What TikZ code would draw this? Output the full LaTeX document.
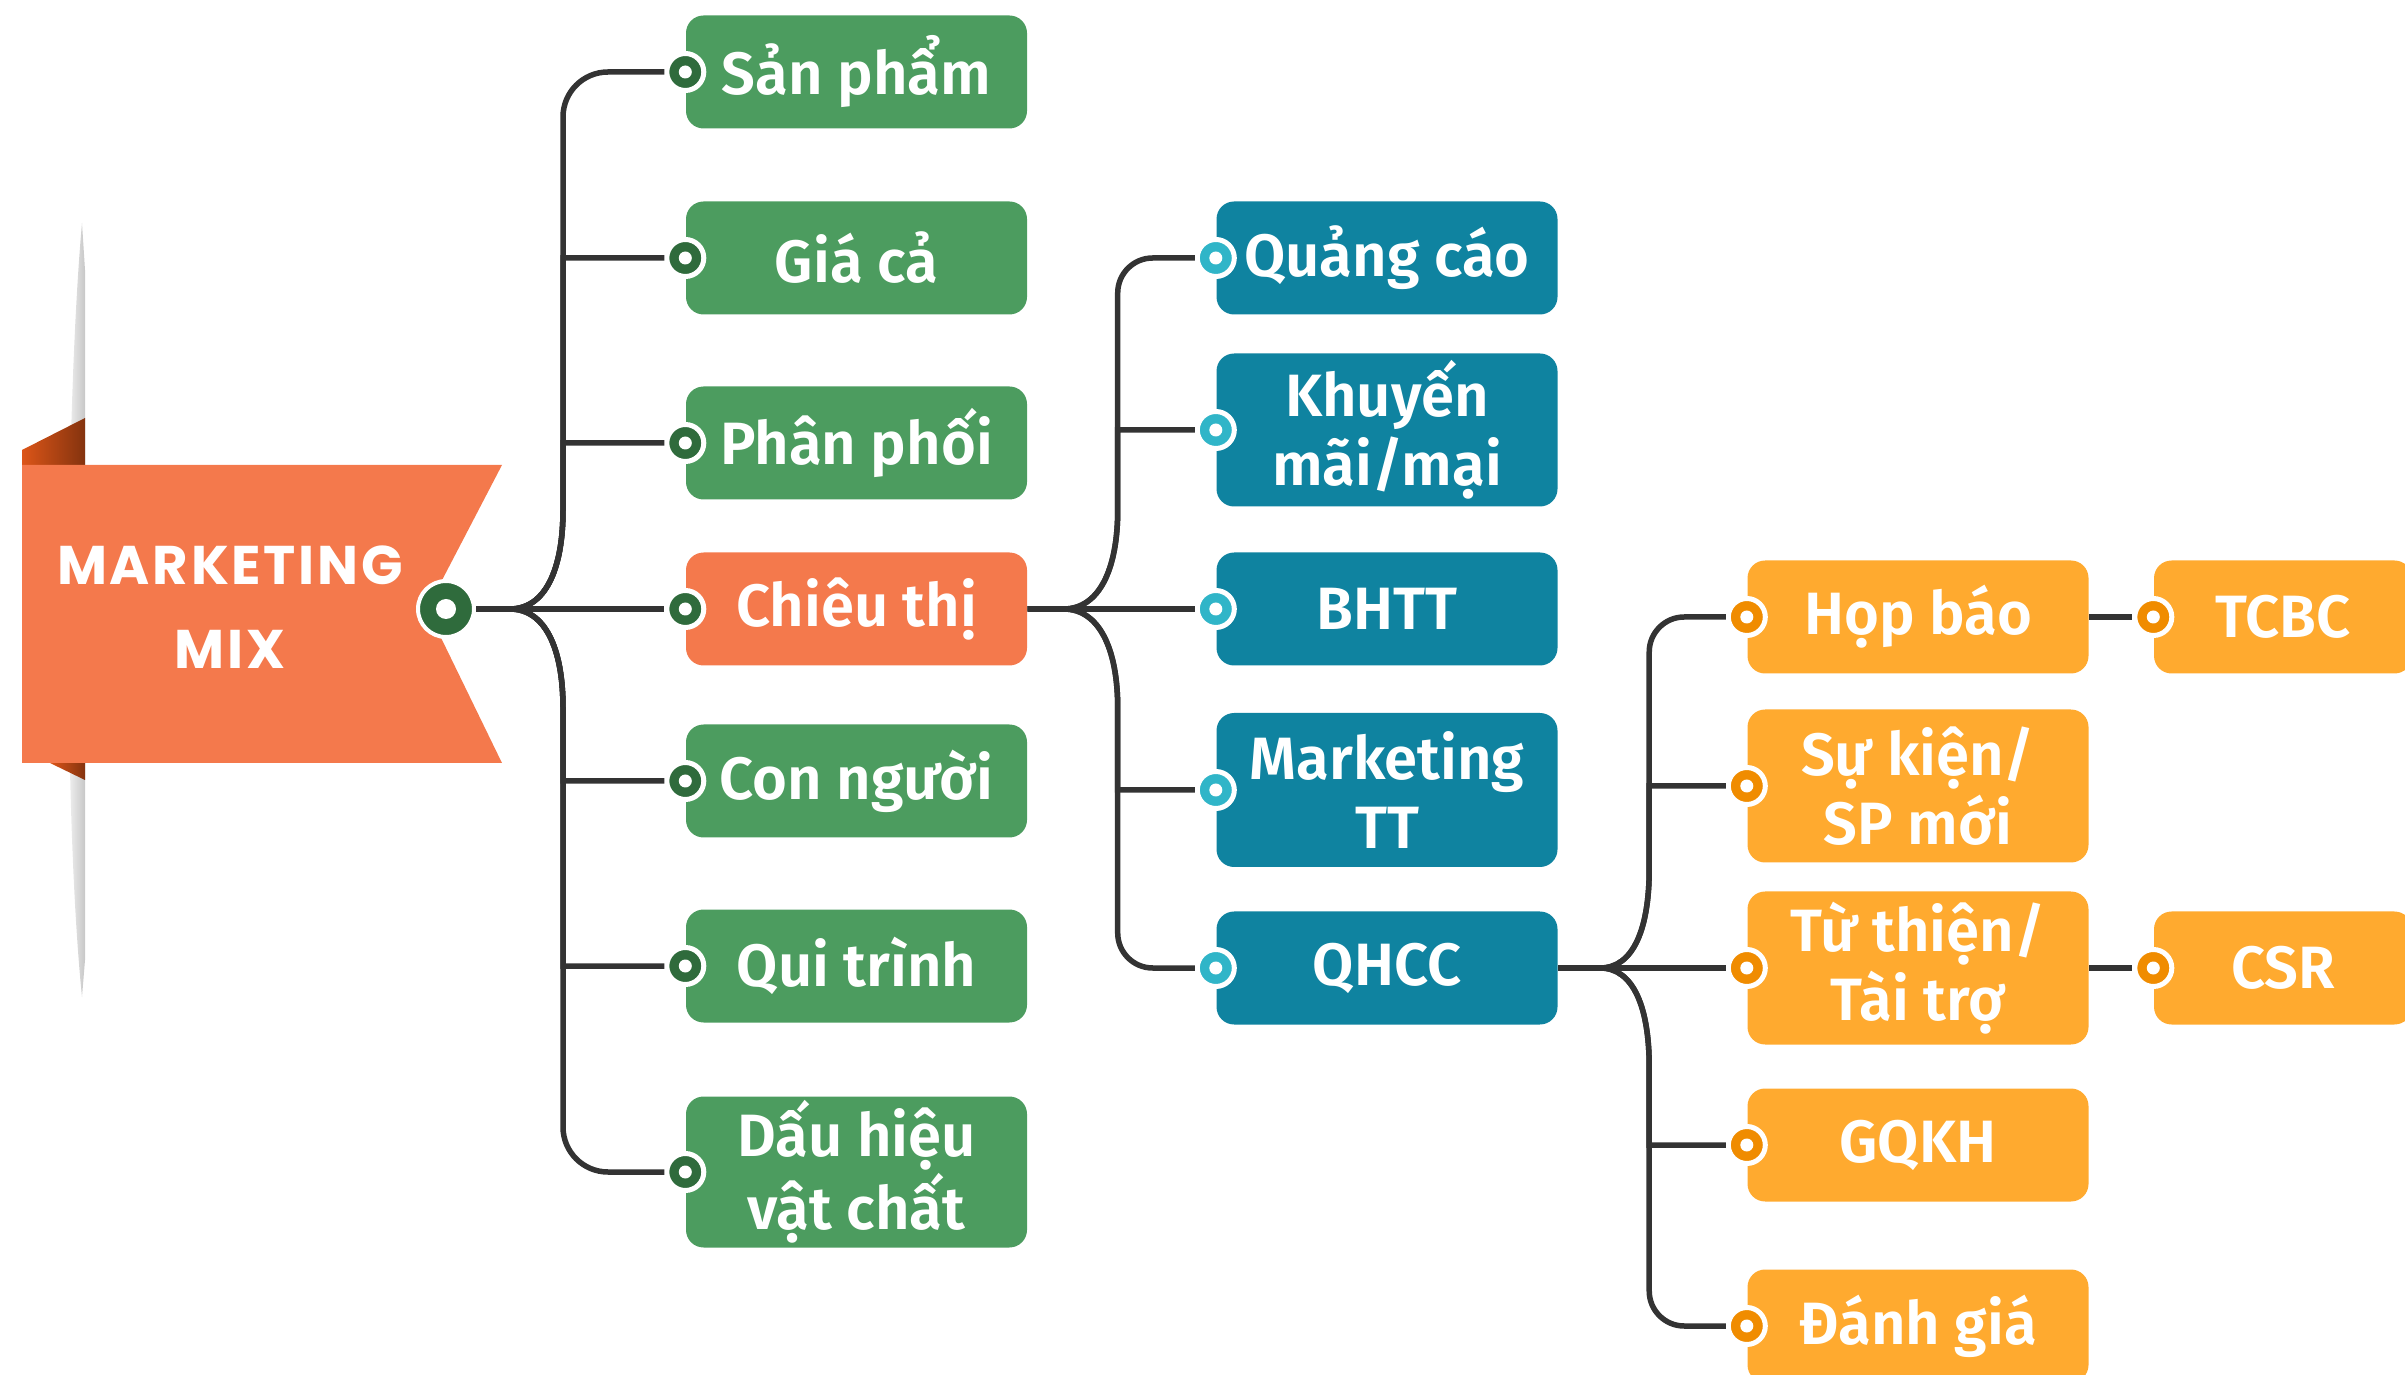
\documentclass[tikz,border=0pt]{standalone}
\usepackage{fontspec}
\setmainfont{Fira Sans}[BoldFont={Fira Sans SemiBold}]
\newfontfamily\hubfont{Poppins}[LetterSpace=5]
\definecolor{mixgreen}{HTML}{4C9C5F}
\definecolor{mixgreendot}{HTML}{2F6B3C}
\definecolor{promoblue}{HTML}{0F83A0}
\definecolor{promobluedot}{HTML}{30B5C8}
\definecolor{prorange}{HTML}{FFAA2F}
\definecolor{prorangedot}{HTML}{F08C00}
\definecolor{hubred}{HTML}{F4794C}
\definecolor{folddark}{HTML}{DC5518}
\definecolor{linkgray}{HTML}{333333}
\tikzset{
  box/.style={fill=#1, rounded corners=5pt, text=white, minimum width=3.41cm,
    minimum height=1.13cm, inner sep=0pt, align=center,
    font=\fontsize{17}{19.6}\selectfont\bfseries},
  knob/.style={circle, fill=#1, draw=white, line width=0.05cm, minimum size=0.37cm,
    inner sep=0pt, path picture={\fill[white] (path picture bounding box.center) circle (0.065cm);}},
  hubknob/.style={circle, fill=#1, draw=white, line width=0.04cm, minimum size=0.56cm,
    inner sep=0pt, path picture={\fill[white] (path picture bounding box.center) circle (0.10cm);}},
  link/.style={draw=linkgray, line width=0.055cm}
}
\begin{document}
\begin{tikzpicture}
\useasboundingbox (0,0) rectangle (24.05,-13.75);

\shade[left color=white, right color=black!22] (0.82,-2.23) .. controls (0.66,-4) and (0.62,-8) .. (0.82,-9.97) -- (0.85,-9.6) -- (0.85,-2.7) -- cycle;
\shade[left color=folddark, middle color=folddark, right color=folddark!60!black] (0.22,-4.50) -- (0.85,-4.18) -- (0.85,-4.65) -- (0.22,-4.65) -- cycle;
\shade[left color=folddark, right color=folddark!60!black] (0.50,-7.63) -- (0.85,-7.80) -- (0.85,-7.63) -- cycle;
\fill[hubred] (0.22,-4.65) -- (5.02,-4.65) -- (4.27,-6.09) -- (5.02,-7.63) -- (0.22,-7.63) -- cycle;
\node[font=\hubfont\bfseries\fontsize{15.5}{24}\selectfont, text=white, align=center] (hub) at (2.30,-6.07) {MARKETING\\MIX};
\node[hubknob=mixgreendot] (hubdot) at (4.46,-6.09) {};

\node[box=mixgreen] (sanpham) at (8.565,-0.72) {Sản phẩm};
\node[box=mixgreen] (giaca) at (8.565,-2.58) {Giá cả};
\node[box=mixgreen] (phanphoi) at (8.565,-4.43) {Phân phối};
\node[box=hubred] (chieuthi) at (8.565,-6.09) {Chiêu thị};
\node[box=mixgreen] (connguoi) at (8.565,-7.81) {Con người};
\node[box=mixgreen] (quitrinh) at (8.565,-9.66) {Qui trình};
\node[box=mixgreen, minimum height=1.51cm] (dauhieu) at (8.565,-11.72) {Dấu hiệu\\vật chất};

\node[box=promoblue] (quangcao) at (13.87,-2.58) {Quảng cáo};
\node[box=promoblue, minimum height=1.53cm] (khuyenmai) at (13.87,-4.30) {Khuyến\\mãi/mại};
\node[box=promoblue] (bhtt) at (13.87,-6.09) {BHTT};
\node[box=promoblue, minimum height=1.54cm] (mktt) at (13.87,-7.90) {Marketing\\TT};
\node[box=promoblue] (qhcc) at (13.87,-9.68) {QHCC};

\node[box=prorange] (hopbao) at (19.18,-6.17) {Họp báo};
\node[box=prorange, minimum height=1.53cm] (sukien) at (19.18,-7.86) {Sự kiện/\\SP mới};
\node[box=prorange, minimum height=1.53cm] (tuthien) at (19.18,-9.68) {Từ thiện/\\Tài trợ};
\node[box=prorange] (gqkh) at (19.18,-11.45) {GQKH};
\node[box=prorange] (danhgia) at (19.18,-13.26) {Đánh giá};
\node[box=prorange, minimum width=2.58cm] (tcbc) at (22.83,-6.17) {TCBC};
\node[box=prorange, minimum width=2.58cm] (csr) at (22.83,-9.68) {CSR};

\node[knob=mixgreendot] (sanpham-dot) at (sanpham.west) {};
\node[knob=mixgreendot] (giaca-dot) at (giaca.west) {};
\node[knob=mixgreendot] (phanphoi-dot) at (phanphoi.west) {};
\node[knob=mixgreendot] (chieuthi-dot) at (chieuthi.west) {};
\node[knob=mixgreendot] (connguoi-dot) at (connguoi.west) {};
\node[knob=mixgreendot] (quitrinh-dot) at (quitrinh.west) {};
\node[knob=mixgreendot] (dauhieu-dot) at (dauhieu.west) {};
\node[knob=promobluedot] (quangcao-dot) at (quangcao.west) {};
\node[knob=promobluedot] (khuyenmai-dot) at (khuyenmai.west) {};
\node[knob=promobluedot] (bhtt-dot) at (bhtt.west) {};
\node[knob=promobluedot] (mktt-dot) at (mktt.west) {};
\node[knob=promobluedot] (qhcc-dot) at (qhcc.west) {};
\node[knob=prorangedot] (hopbao-dot) at (hopbao.west) {};
\node[knob=prorangedot] (sukien-dot) at (sukien.west) {};
\node[knob=prorangedot] (tuthien-dot) at (tuthien.west) {};
\node[knob=prorangedot] (gqkh-dot) at (gqkh.west) {};
\node[knob=prorangedot] (danhgia-dot) at (danhgia.west) {};
\node[knob=prorangedot] (tcbc-dot) at (tcbc.west) {};
\node[knob=prorangedot] (csr-dot) at (csr.west) {};

\coordinate (fork) at (5.10,-6.09);
\coordinate (fork2) at ([xshift=0.36cm]chieuthi.east);
\coordinate (fork3) at ([xshift=0.42cm]qhcc.east);

\draw[link] (hubdot) -- (fork) .. controls +(0.35,0) and +(0,-0.6) .. ++(0.53,0.99) [rounded corners=0.45cm] |- (sanpham-dot);
\draw[link] (hubdot) -- (fork) .. controls +(0.35,0) and +(0,-0.6) .. ++(0.53,0.99) |- (giaca-dot);
\draw[link] (hubdot) -- (fork) .. controls +(0.35,0) and +(0,-0.6) .. ++(0.53,0.99) |- (phanphoi-dot);
\draw[link] (hubdot) -- (chieuthi-dot);
\draw[link] (hubdot) -- (fork) .. controls +(0.35,0) and +(0,0.6) .. ++(0.53,-0.99) |- (connguoi-dot);
\draw[link] (hubdot) -- (fork) .. controls +(0.35,0) and +(0,0.6) .. ++(0.53,-0.99) |- (quitrinh-dot);
\draw[link] (hubdot) -- (fork) .. controls +(0.35,0) and +(0,0.6) .. ++(0.53,-0.99) [rounded corners=0.45cm] |- (dauhieu-dot);

\draw[link] (chieuthi) -- (fork2) .. controls +(0.35,0) and +(0,-0.6) .. ++(0.54,0.99) [rounded corners=0.35cm] |- (quangcao-dot);
\draw[link] (chieuthi) -- (fork2) .. controls +(0.35,0) and +(0,-0.6) .. ++(0.54,0.99) |- (khuyenmai-dot);
\draw[link] (chieuthi) -- (bhtt-dot);
\draw[link] (chieuthi) -- (fork2) .. controls +(0.35,0) and +(0,0.6) .. ++(0.54,-0.99) |- (mktt-dot);
\draw[link] (chieuthi) -- (fork2) .. controls +(0.35,0) and +(0,0.6) .. ++(0.54,-0.99) [rounded corners=0.35cm] |- (qhcc-dot);

\draw[link] (qhcc) -- (fork3) .. controls +(0.33,0) and +(0,-0.6) .. ++(0.49,0.99) [rounded corners=0.35cm] |- (hopbao-dot);
\draw[link] (qhcc) -- (fork3) .. controls +(0.33,0) and +(0,-0.6) .. ++(0.49,0.99) |- (sukien-dot);
\draw[link] (qhcc) -- (tuthien-dot);
\draw[link] (qhcc) -- (fork3) .. controls +(0.33,0) and +(0,0.6) .. ++(0.49,-0.99) |- (gqkh-dot);
\draw[link] (qhcc) -- (fork3) .. controls +(0.33,0) and +(0,0.6) .. ++(0.49,-0.99) [rounded corners=0.35cm] |- (danhgia-dot);

\draw[link] (hopbao) -- (tcbc-dot);
\draw[link] (tuthien) -- (csr-dot);
\end{tikzpicture}
\end{document}
